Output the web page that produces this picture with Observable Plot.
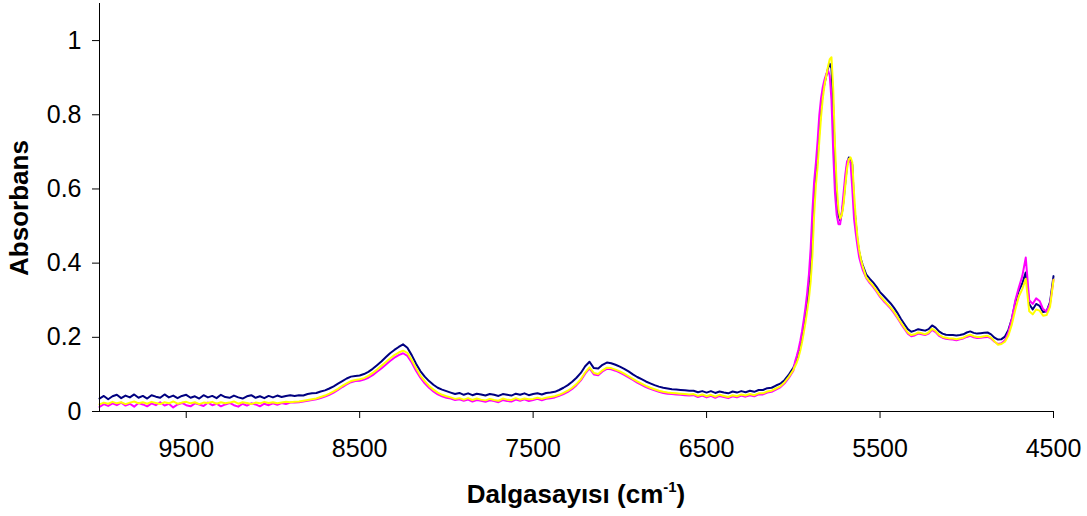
<!DOCTYPE html>
<html>
<head>
<meta charset="utf-8">
<script src="https://cdn.jsdelivr.net/npm/d3@7"></script>
<script src="https://cdn.jsdelivr.net/npm/@observablehq/plot@0.6"></script>
<style>
  html, body { margin: 0; padding: 0; background: #fff; }
</style>
</head>
<body>
<div id="chart"></div>
<script>
// Sampling grid of wavenumbers (cm-1): coarse / fine / medium regions
const wavenumber = [
  ...d3.range(10000, 5999, -25),
  ...d3.range(5990, 5599, -10),
  ...d3.range(5580, 4499, -20)
];

const xTicks = [9500, 8500, 7500, 6500, 5500, 4500];
const yTicks = [0, 0.2, 0.4, 0.6, 0.8, 1];
const seriesNames = ["Seri 1", "Seri 2", "Seri 3"];
const seriesColors = ["#000080", "#FF00FF", "#FFFF00"];

const navy = [
  // 10000 .. 8900
  0.035,0.042,0.033,0.041,0.045,0.036,0.043,0.038,0.046,0.037,
  0.042,0.035,0.044,0.040,0.037,0.046,0.038,0.043,0.036,0.042,
  0.045,0.037,0.041,0.035,0.044,0.038,0.042,0.036,0.045,0.039,
  0.037,0.043,0.038,0.035,0.041,0.044,0.037,0.041,0.036,0.042,
  0.038,0.043,0.039,0.042,0.044,
  // 8875 .. 8000
  0.042,0.044,0.043,0.047,0.049,0.050,0.054,0.057,0.062,0.068,
  0.075,0.082,0.089,0.094,0.096,0.097,0.101,0.107,0.115,0.125,
  0.135,0.146,0.157,0.166,0.174,0.181,0.172,0.152,0.129,0.109,
  0.094,0.082,0.072,0.064,0.059,0.055,
  // 7975 .. 7400
  0.051,0.047,0.050,0.045,0.049,0.044,0.048,0.046,0.043,0.047,
  0.045,0.042,0.047,0.045,0.043,0.048,0.045,0.049,0.044,0.047,
  0.049,0.046,0.050,0.051,
  // 7375 .. 6600
  0.053,0.058,0.064,0.071,0.080,0.091,0.104,0.122,0.134,0.117,
  0.116,0.126,0.132,0.130,0.126,0.121,0.115,0.108,0.100,0.093,
  0.087,0.081,0.076,0.071,0.067,0.064,0.062,0.060,0.059,0.058,
  0.057,0.056,
  // 6575 .. 6000
  0.056,0.052,0.055,0.051,0.055,0.050,0.054,0.051,0.049,0.054,
  0.051,0.055,0.052,0.056,0.053,0.058,0.058,0.063,0.064,0.070,
  0.075,0.085,0.100,0.118,
  // 5990 .. 5600
  0.128,0.140,0.156,0.176,0.200,0.228,0.258,0.290,0.330,0.380,
  0.470,0.580,0.640,0.680,0.760,0.815,0.860,0.885,0.905,0.925,
  0.938,0.925,0.820,0.680,0.580,0.530,0.515,0.535,0.570,0.620,
  0.665,0.685,0.680,0.665,0.560,0.510,0.460,0.430,0.410,0.395,
  // 5580 .. 4500
  0.370,0.358,0.348,0.336,0.322,0.312,0.302,0.292,0.280,0.266,
  0.250,0.236,0.222,0.215,0.218,0.222,0.220,0.218,0.222,0.232,
  0.226,0.216,0.210,0.207,0.206,0.206,0.205,0.206,0.208,0.213,
  0.216,0.212,0.210,0.211,0.212,0.213,0.208,0.199,0.194,0.195,
  0.202,0.220,0.250,0.295,0.326,0.345,0.375,0.290,0.275,0.290,
  0.285,0.268,0.270,0.295,0.365
];

const magenta = [
  // 10000 .. 8900
  0.012,0.020,0.015,0.022,0.017,0.024,0.016,0.021,0.013,0.023,
  0.019,0.014,0.022,0.017,0.025,0.016,0.021,0.011,0.019,0.023,
  0.017,0.014,0.022,0.019,0.015,0.024,0.017,0.021,0.014,0.019,
  0.023,0.017,0.013,0.021,0.016,0.022,0.019,0.014,0.021,0.017,
  0.022,0.018,0.023,0.020,0.024,
  // 8875 .. 8000
  0.024,0.025,0.027,0.029,0.031,0.033,0.036,0.040,0.045,0.051,
  0.058,0.066,0.073,0.079,0.082,0.083,0.086,0.091,0.098,0.107,
  0.116,0.126,0.136,0.145,0.152,0.157,0.150,0.132,0.110,0.091,
  0.076,0.064,0.054,0.046,0.041,0.037,
  // 7975 .. 7400
  0.035,0.031,0.033,0.029,0.032,0.027,0.031,0.029,0.026,0.030,
  0.028,0.025,0.031,0.028,0.027,0.032,0.029,0.033,0.028,0.031,
  0.034,0.030,0.034,0.036,
  // 7375 .. 6600
  0.038,0.042,0.047,0.053,0.061,0.071,0.084,0.102,0.116,0.100,
  0.098,0.108,0.115,0.114,0.110,0.105,0.099,0.092,0.085,0.078,
  0.072,0.066,0.061,0.057,0.053,0.050,0.048,0.047,0.046,0.045,
  0.044,0.043,
  // 6575 .. 6000
  0.044,0.039,0.043,0.038,0.042,0.037,0.042,0.039,0.036,0.041,
  0.038,0.043,0.040,0.044,0.041,0.046,0.046,0.051,0.053,0.059,
  0.065,0.076,0.091,0.110,
  // 5990 .. 5600
  0.135,0.150,0.168,0.190,0.216,0.246,0.280,0.320,0.370,0.440,
  0.540,0.620,0.670,0.730,0.800,0.845,0.875,0.895,0.910,0.920,
  0.905,0.840,0.700,0.590,0.530,0.505,0.505,0.540,0.590,0.640,
  0.675,0.680,0.670,0.600,0.520,0.480,0.445,0.415,0.398,0.382,
  // 5580 .. 4500
  0.360,0.347,0.336,0.323,0.309,0.298,0.288,0.278,0.266,0.252,
  0.237,0.223,0.210,0.203,0.205,0.210,0.208,0.206,0.210,0.220,
  0.214,0.204,0.199,0.196,0.195,0.194,0.192,0.195,0.197,0.201,
  0.204,0.200,0.198,0.199,0.200,0.201,0.197,0.188,0.182,0.184,
  0.192,0.214,0.250,0.300,0.334,0.365,0.415,0.300,0.290,0.305,
  0.298,0.276,0.270,0.290,0.355
];

const yellow = [
  // 10000 .. 8900
  0.019,0.024,0.021,0.026,0.022,0.025,0.020,0.024,0.027,0.022,
  0.025,0.021,0.026,0.023,0.020,0.025,0.022,0.027,0.021,0.024,
  0.026,0.022,0.025,0.020,0.024,0.023,0.026,0.021,0.025,0.022,
  0.024,0.027,0.021,0.025,0.023,0.020,0.024,0.022,0.026,0.023,
  0.025,0.022,0.024,0.026,0.025,
  // 8875 .. 8000
  0.026,0.027,0.029,0.031,0.033,0.035,0.039,0.043,0.048,0.054,
  0.061,0.069,0.076,0.082,0.085,0.087,0.090,0.096,0.104,0.113,
  0.123,0.133,0.143,0.152,0.159,0.164,0.158,0.139,0.117,0.097,
  0.082,0.069,0.059,0.051,0.045,0.041,
  // 7975 .. 7400
  0.038,0.034,0.036,0.032,0.036,0.031,0.035,0.032,0.030,0.034,
  0.031,0.029,0.035,0.032,0.031,0.036,0.032,0.035,0.033,0.034,
  0.037,0.034,0.037,0.039,
  // 7375 .. 6600
  0.041,0.045,0.050,0.056,0.064,0.074,0.087,0.105,0.119,0.104,
  0.101,0.111,0.118,0.117,0.113,0.108,0.102,0.095,0.088,0.081,
  0.075,0.069,0.064,0.060,0.056,0.053,0.051,0.050,0.049,0.048,
  0.047,0.046,
  // 6575 .. 6000
  0.047,0.042,0.046,0.041,0.045,0.040,0.045,0.042,0.039,0.044,
  0.041,0.046,0.043,0.047,0.044,0.049,0.049,0.054,0.056,0.062,
  0.068,0.079,0.094,0.112,
  // 5990 .. 5600
  0.122,0.132,0.146,0.164,0.186,0.212,0.240,0.272,0.305,0.350,
  0.420,0.530,0.610,0.660,0.730,0.795,0.845,0.880,0.905,0.930,
  0.950,0.955,0.870,0.720,0.610,0.545,0.520,0.530,0.560,0.610,
  0.655,0.680,0.685,0.672,0.590,0.520,0.470,0.435,0.410,0.392,
  // 5580 .. 4500
  0.362,0.350,0.339,0.326,0.312,0.301,0.291,0.281,0.269,0.255,
  0.240,0.226,0.213,0.206,0.208,0.213,0.211,0.208,0.213,0.223,
  0.217,0.207,0.201,0.199,0.197,0.197,0.195,0.197,0.199,0.204,
  0.207,0.203,0.201,0.201,0.203,0.204,0.199,0.189,0.180,0.182,
  0.188,0.205,0.235,0.275,0.310,0.330,0.358,0.270,0.262,0.275,
  0.272,0.258,0.260,0.282,0.355
];

const seriesValues = [navy, magenta, yellow];
const data = seriesValues.flatMap((vals, s) =>
  vals.map((v, i) => ({wn: wavenumber[i], a: v, series: seriesNames[s]}))
);

const lineMarks = seriesNames.map((name, s) =>
  Plot.line(data.filter(d => d.series === name), {
    x: "wn", y: "a", stroke: seriesColors[s], strokeWidth: 2, curve: "linear"
  })
);

const svg = Plot.plot({
  width: 1087,
  height: 516,
  marginLeft: 99,
  marginRight: 34,
  marginTop: 3,
  marginBottom: 105,
  style: {fontFamily: "'Liberation Sans', Arial, sans-serif", fontSize: "25px", color: "#000", background: "#fff", overflow: "visible"},
  x: {domain: [10000, 4500], ticks: xTicks, tickFormat: d => String(d), label: null, tickSize: 7, tickPadding: 21},
  y: {domain: [0, 1.1], ticks: yTicks, tickFormat: d => String(d), label: null, tickSize: 7, tickPadding: 11},
  marks: [
    ...lineMarks,
    Plot.ruleX([10000], {stroke: "#000", strokeWidth: 1}),
    Plot.ruleY([0], {stroke: "#000", strokeWidth: 1})
  ]
});

const sel = d3.select(svg);
sel.append("text")
  .attr("transform", "translate(28,208) rotate(-90)")
  .attr("text-anchor", "middle")
  .attr("font-family", "'Liberation Sans', Arial, sans-serif")
  .attr("font-size", 26)
  .attr("font-weight", "bold")
  .attr("fill", "#000")
  .text("Absorbans");

const xt = sel.append("text")
  .attr("x", 576)
  .attr("y", 503)
  .attr("text-anchor", "middle")
  .attr("font-family", "'Liberation Sans', Arial, sans-serif")
  .attr("font-size", 26)
  .attr("font-weight", "bold")
  .attr("fill", "#000");
xt.append("tspan").text("Dalgasayısı (cm");
xt.append("tspan").attr("font-size", 15).attr("dy", -11).text("-1");
xt.append("tspan").attr("dy", 11).text(")");

document.getElementById("chart").appendChild(svg);
</script>
</body>
</html>
